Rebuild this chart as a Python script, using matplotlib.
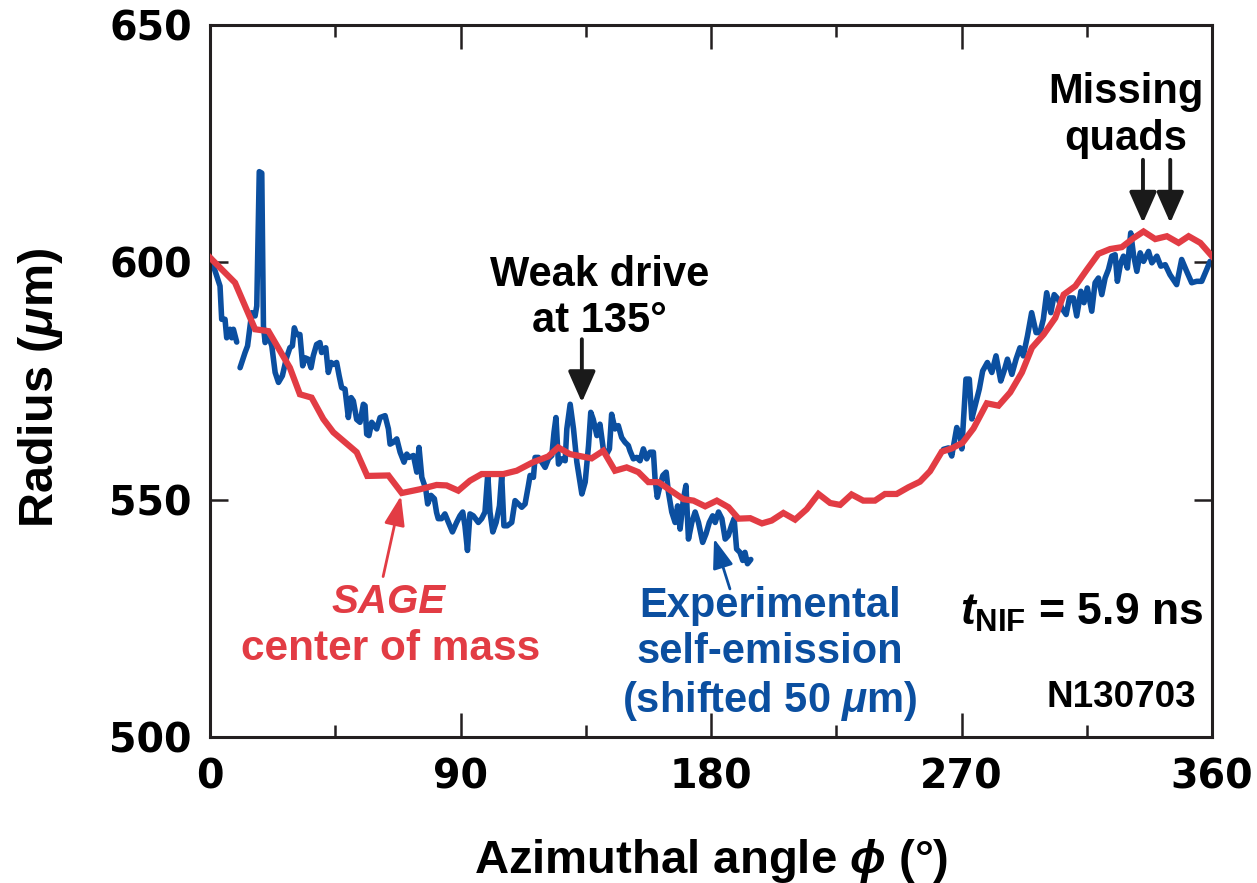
import numpy as np
import matplotlib
matplotlib.use("Agg")
import matplotlib.pyplot as plt

# ---------------- data ----------------
sage_phi = [0.0, 9.0, 16.2, 21.0, 28.7, 32.3, 36.5, 40.7, 44.3, 52.7, 56.5, 64.1, 68.9,
            75.5, 81.4, 85.0, 89.2, 93.4, 97.6, 105.4, 110.2, 116.1, 121.5, 125.1, 129.3,
            137.1, 141.3, 145.5, 149.7, 153.9, 157.5, 161.1, 170.1, 173.7, 177.9, 182.1,
            186.3, 189.9, 194.1, 198.3, 201.8, 206.0, 210.2, 214.4, 218.6, 222.8, 226.4,
            230.5, 234.7, 238.9, 242.5, 246.7, 250.9, 255.1, 258.7, 262.9, 266.5, 270.4,
            274.3, 279.1, 283.3, 287.5, 291.7, 295.3, 299.5, 303.7, 306.7, 310.9, 315.1,
            319.2, 323.4, 327.6, 331.8, 335.4, 339.6, 343.8, 348.0, 351.6, 355.8, 360.0]
sage_r = [601.0, 595.7, 585.9, 585.5, 577.8, 572.2, 571.5, 567.0, 564.2, 560.0, 555.0, 555.1, 551.4,
          552.2, 553.1, 553.0, 551.9, 554.0, 555.4, 555.4, 556.1, 557.9, 559.1, 561.0, 559.6,
          558.7, 560.3, 556.1, 556.8, 555.8, 553.7, 553.7, 550.1, 549.8, 548.6, 549.8,
          548.4, 546.0, 546.1, 545.0, 545.6, 547.2, 545.8, 548.0, 551.2, 549.3, 548.9,
          551.1, 549.8, 549.8, 551.2, 551.2, 552.6, 553.8, 556.0, 560.1, 560.8, 562.0,
          565.0, 570.3, 569.8, 572.6, 576.8, 582.0, 584.8, 588.3, 593.2, 595.0, 598.5,
          601.8, 602.8, 603.2, 605.1, 606.5, 604.9, 605.5, 604.1, 605.5, 604.1, 601.3]

exp1_phi = [0.3, 3.6, 4.2, 5.4, 6.0, 7.2, 7.8, 8.4, 9.6]
exp1_r = [600.9, 595.0, 588.0, 588.0, 584.1, 585.9, 584.1, 585.9, 583.2]

exp2_phi = [10.8, 12.6, 13.5, 15.0, 16.2, 16.8, 17.7, 18.6, 19.2, 19.8, 21.0, 22.2, 23.4, 24.6,
            26.0, 27.5, 28.7, 29.6, 30.3, 31.1, 32.3, 33.3, 34.1, 35.3, 36.3, 37.1, 38.3, 39.5,
            40.1, 40.7, 41.6, 42.5, 43.5, 44.3, 45.5, 46.4, 47.3, 48.5, 49.7, 50.7, 51.5, 52.7,
            53.9, 55.1, 55.7, 56.3, 57.1, 58.1, 59.0, 59.9, 61.1, 62.9, 64.1, 64.7, 65.9, 67.1,
            68.3, 69.7, 70.7, 71.5, 73.1, 74.3, 75.1, 76.1, 77.5, 78.2, 79.4, 80.6, 81.4, 82.0,
            83.2, 84.4, 85.4, 87.1, 88.6, 89.8, 90.8, 91.6, 92.5, 93.4, 94.6, 96.4, 97.6, 98.8,
            99.8, 100.6, 101.6, 102.8, 104.0, 104.8, 105.6, 106.8, 108.4, 109.6, 110.8, 112.0,
            113.2, 114.4, 115.0, 116.2, 116.8, 118.0, 119.2, 120.4, 121.6, 122.8, 123.6, 124.3,
            125.2, 126.4, 127.6, 128.2, 129.4, 130.6, 131.8, 133.6, 134.8, 136.0, 136.8, 137.7,
            139.0, 140.1, 141.3, 142.5, 143.5, 144.3, 145.5, 146.7, 147.9, 149.1, 150.3, 150.9,
            152.1, 153.3, 154.5, 155.7, 156.9, 158.1, 159.3, 159.9, 160.7, 161.7, 162.7, 163.9,
            164.7, 165.9, 167.1, 168.0, 168.9, 170.1, 171.0, 171.9, 173.1, 174.3, 175.5, 177.0,
            178.2, 179.4, 180.6, 181.5, 182.7, 183.9, 185.1, 186.2, 187.4, 188.3, 189.2, 190.4,
            191.4, 192.2, 193.1, 194.3]
exp2_r = [577.8, 581.0, 582.4, 589.4, 588.7, 590.8, 619.1, 618.8, 586.6, 583.1, 584.5, 582.4, 576.8, 574.7,
          576.1, 579.9, 582.0, 582.4, 586.2, 584.8, 584.8, 578.2, 579.9, 579.6, 577.8, 580.3, 582.7, 583.1,
          581.0, 581.7, 582.0, 576.8, 578.9, 578.5, 578.9, 576.1, 573.6, 573.3, 567.3, 571.5, 570.8, 566.9,
          566.3, 570.1, 569.8, 563.8, 563.5, 566.3, 565.6, 564.9, 567.3, 567.7, 564.9, 561.7, 562.1, 562.8,
          560.0, 557.9, 559.6, 558.9, 559.3, 555.8, 561.0, 554.7, 552.3, 549.1, 550.9, 550.2, 547.3, 546.0,
          546.0, 547.0, 545.6, 543.2, 545.2, 546.6, 547.4, 544.5, 539.3, 547.0, 546.6, 545.2, 546.0, 547.4,
          555.4, 547.4, 543.2, 545.2, 548.7, 555.1, 544.5, 544.5, 545.2, 549.8, 549.1, 548.4,
          549.1, 553.0, 555.1, 554.7, 558.9, 558.9, 557.9, 556.8, 558.6, 559.3, 564.2, 567.3,
          557.5, 558.6, 558.2, 564.9, 570.1, 564.9, 557.9, 551.2, 553.7, 561.4, 568.4, 566.9,
          563.5, 565.9, 560.7, 559.6, 560.7, 568.0, 564.9, 565.6, 563.1, 562.1, 561.4, 560.3,
          558.6, 558.9, 558.2, 560.7, 558.6, 560.0, 560.0, 554.4, 550.5, 553.0, 555.1, 555.8,
          551.6, 547.4, 545.2, 548.7, 543.8, 550.2, 553.0, 541.7, 545.2, 547.4, 545.2, 541.0,
          542.8, 545.2, 546.6, 545.2, 547.4, 546.0, 541.7, 542.4, 544.6, 546.0, 539.6, 538.9,
          537.2, 538.9, 536.5, 537.4]

exp3_phi = [263.5, 265.3, 266.5, 268.3, 269.5, 270.1, 271.6, 272.8, 273.7, 274.9, 276.4, 277.6,
            279.3, 280.9, 282.4, 284.1, 285.3, 286.5, 288.1, 289.6, 291.0, 292.2, 293.7, 295.2,
            296.8, 298.2, 299.4, 300.6, 302.1, 303.3, 304.8, 306.0, 307.6, 308.8, 310.2, 311.4,
            312.9, 314.0, 315.2, 316.8, 318.0, 319.2, 320.4, 321.6, 322.8, 324.0, 325.2, 326.0,
            327.2, 328.2, 329.6, 330.8, 331.8, 333.0, 334.2, 335.4, 337.2, 338.4, 340.2, 341.6,
            343.2, 344.9, 347.3, 349.1, 350.9, 352.7, 354.5, 356.3, 358.1, 359.3]
exp3_r = [560.6, 560.9, 559.2, 565.2, 563.5, 560.7, 575.4, 575.4, 567.0, 569.8, 573.3, 577.1,
          578.9, 576.8, 580.3, 575.0, 577.1, 579.6, 576.4, 579.6, 582.0, 580.3, 584.5, 589.4,
          585.2, 585.2, 588.0, 593.6, 589.4, 593.2, 592.2, 590.4, 589.0, 592.5, 592.5, 588.7,
          593.9, 591.5, 594.6, 589.7, 595.7, 596.7, 593.2, 596.7, 598.5, 601.3, 601.6, 596.0,
          599.9, 601.3, 598.8, 606.2, 601.6, 598.1, 602.0, 600.2, 602.3, 599.9, 601.3, 599.2,
          599.5, 597.4, 595.3, 600.6, 598.1, 595.7, 596.0, 596.0, 598.5, 600.2]

x_ticks = [0, 90, 180, 270, 360]
x_minor = [45, 135, 225, 315]
y_ticks = [500, 550, 600, 650]

# ---------------- style ----------------
RED = '#E23C44'
BLUE = '#0B4FA0'
DARK = '#231F20'
plt.rcParams['font.family'] = ['Liberation Sans', 'DejaVu Sans']
plt.rcParams['mathtext.fontset'] = 'custom'
plt.rcParams['mathtext.rm'] = 'Liberation Sans:bold'
plt.rcParams['mathtext.it'] = 'Liberation Sans:italic:bold'
plt.rcParams['mathtext.bf'] = 'Liberation Sans:bold'

fig = plt.figure(figsize=(12.57, 8.83), dpi=100)
ax = fig.add_axes([210 / 1257, 1 - 737 / 883, 1002 / 1257, 712 / 883])

for ph, rr in [(exp1_phi, exp1_r), (exp2_phi, exp2_r), (exp3_phi, exp3_r)]:
    ax.plot(ph, rr, color=BLUE, lw=4.0, solid_joinstyle='round', solid_capstyle='round', zorder=2)
ax.plot(sage_phi, sage_r, color=RED, lw=4.5, solid_joinstyle='miter', zorder=3)

ax.set_xlim(0, 360)
ax.set_ylim(500, 650)
ax.set_xticks(x_ticks)
ax.set_xticks(x_minor, minor=True)
ax.set_yticks(y_ticks)
ax.tick_params(axis='x', which='major', direction='in', length=17, width=1.8, color=DARK,
               top=True, bottom=True, pad=15)
ax.tick_params(axis='x', which='minor', direction='in', length=8.5, width=1.8, color=DARK,
               top=True, bottom=True)
ax.tick_params(axis='y', which='major', direction='in', length=13, width=1.8, color=DARK,
               left=True, right=True, pad=13)
for lab in ax.get_xticklabels() + ax.get_yticklabels():
    lab.set_fontfamily('DejaVu Sans')
    lab.set_fontweight('heavy')
    lab.set_fontsize(28.5)
for s in ax.spines.values():
    s.set_linewidth(2.2)
    s.set_color(DARK)

ax.set_xlabel('Azimuthal angle $\\phi$ (°)', fontsize=34, fontweight='bold')
ax.xaxis.set_label_coords(0.5, -0.14)
ax.set_ylabel('Radius ($\\mu$m)', fontsize=35, fontweight='bold')
ax.yaxis.set_label_coords(-0.145, 0.49)

# ---------------- annotations ----------------
ax.text(0.389, 0.617, 'Weak drive\nat 135°', transform=ax.transAxes, ha='center', va='center',
        fontsize=30, fontweight='bold', linespacing=1.2)
ax.text(0.914, 0.873, 'Missing\nquads', transform=ax.transAxes, ha='center', va='center',
        fontsize=30, fontweight='bold', linespacing=1.25)
ax.text(0.178, 0.190, 'SAGE', transform=ax.transAxes, ha='center', va='center',
        fontsize=29, fontweight='bold', style='italic', color=RED)
ax.text(0.180, 0.123, 'center of mass', transform=ax.transAxes, ha='center', va='center',
        fontsize=30.5, fontweight='bold', color=RED)
ax.text(0.559, 0.116, 'Experimental\nself-emission\n(shifted 50 $\\mu$m)', transform=ax.transAxes,
        ha='center', va='center', fontsize=30, fontweight='bold', color=BLUE, linespacing=1.2)
ax.text(0.870, 0.174, '$t_{\\mathbf{NIF}}$ = 5.9 ns', transform=ax.transAxes, ha='center', va='center',
        fontsize=32, fontweight='bold')
ax.text(0.909, 0.056, 'N130703', transform=ax.transAxes, ha='center', va='center',
        fontsize=26.5, fontweight='bold')

blk = dict(arrowstyle='-|>,head_length=0.95,head_width=0.42', color='#1A1A1A', lw=2.8,
           shrinkA=0, shrinkB=0, mutation_scale=20)
ax.annotate('', xy=(133.6, 570.5), xytext=(133.6, 583.8), arrowprops=blk)
ax.annotate('', xy=(335.2, 608.3), xytext=(335.2, 621.6), arrowprops=blk)
ax.annotate('', xy=(345.0, 608.3), xytext=(345.0, 621.6), arrowprops=blk)
ax.annotate('', xy=(68.6, 550.8), xytext=(62.2, 533.8),
            arrowprops=dict(arrowstyle='-|>,head_length=1.0,head_width=0.35', color=RED, lw=2.0,
                            shrinkA=0, shrinkB=0, mutation_scale=18))
ax.annotate('', xy=(181.1, 541.8), xytext=(186.8, 531.2),
            arrowprops=dict(arrowstyle='-|>,head_length=1.0,head_width=0.35', color=BLUE, lw=2.0,
                            shrinkA=0, shrinkB=0, mutation_scale=18))

fig.savefig('out.png', dpi=100)
